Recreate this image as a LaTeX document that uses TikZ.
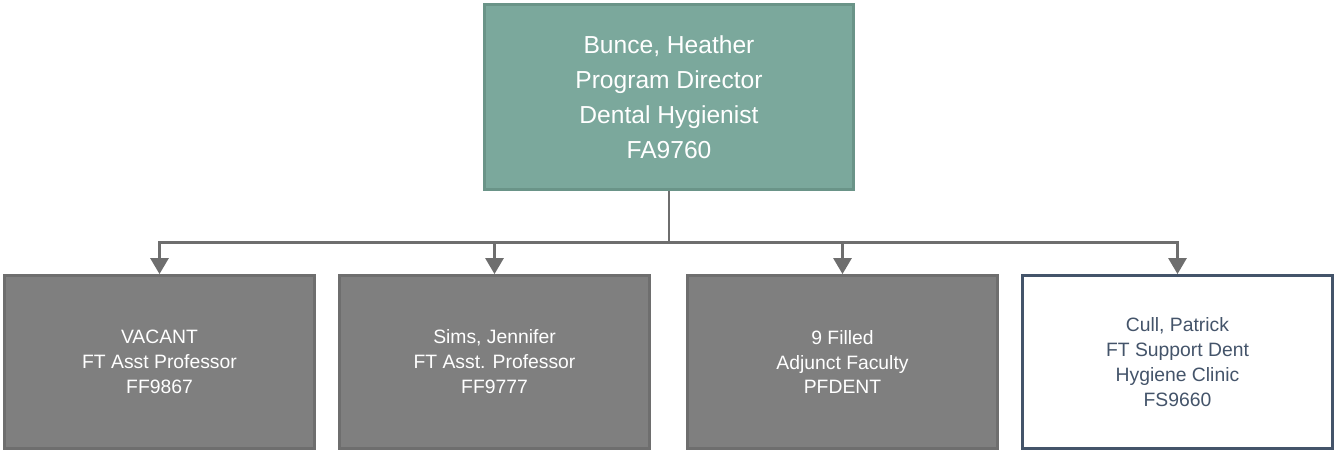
\documentclass[tikz,border=0pt]{standalone}
\usepackage{fontspec}
\setmainfont{Liberation Sans}
\usetikzlibrary{arrows.meta,positioning}

\definecolor{tealfill}{HTML}{7BA89C}
\definecolor{tealline}{HTML}{6A9488}
\definecolor{greyfill}{HTML}{7F7F7F}
\definecolor{greyline}{HTML}{6E6E6E}
\definecolor{slate}{HTML}{44546A}

\begin{document}
\begin{tikzpicture}[>={Triangle[width=0.36cm,length=0.32cm]},line width=1.6pt,
  head/.style={draw=tealline,fill=tealfill,text=white,minimum width=7.38cm,minimum height=3.7cm,
    align=center,font=\fontsize{14}{20}\selectfont},
  staff/.style={draw=greyline,fill=greyfill,text=white,minimum width=6.2cm,minimum height=3.46cm,
    align=center,font=\fontsize{11}{14.2}\selectfont},
  support/.style={staff,draw=slate,fill=white,text=slate},
  link/.style={draw=greyline}]

\useasboundingbox (0,0) rectangle (26.72,-9.06);

\node[head] (director) at (13.38,-1.94) {Bunce, Heather\\Program Director\\Dental Hygienist\\FA9760};

\node[staff]   (vacant)  at (3.19,-7.24)  {VACANT\\FT Asst Professor\\FF9867};
\node[staff]   (sims)    at (9.89,-7.24)  {Sims, Jennifer\\FT Asst. Professor\\FF9777};
\node[staff]   (adjunct) at (16.85,-7.24) {9 Filled\\Adjunct Faculty\\PFDENT};
\node[support] (cull)    at (23.55,-7.24) {Cull, Patrick\\FT Support Dent\\Hygiene Clinic\\FS9660};

\coordinate (bus) at ([yshift=-1.03cm]director.south);

\draw[link] (director) -- (bus);
\draw[link,->] (bus) -| (vacant);
\draw[link,->] (bus) -| (sims);
\draw[link,->] (bus) -| (adjunct);
\draw[link,->] (bus) -| (cull);
\end{tikzpicture}
\end{document}
